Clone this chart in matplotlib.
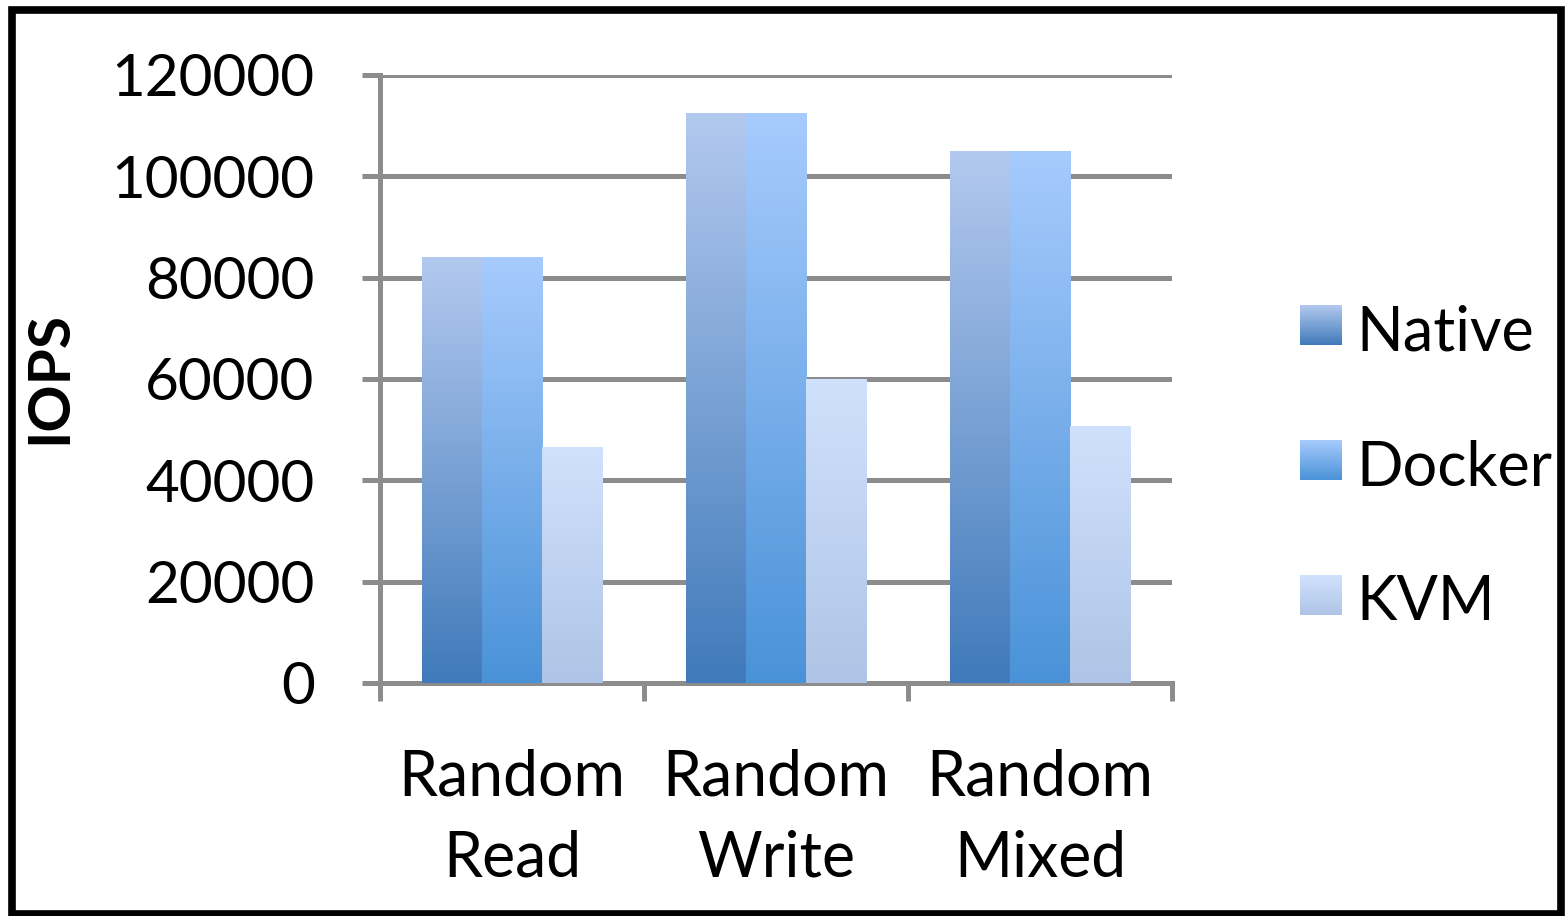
import numpy as np
import matplotlib
matplotlib.use("Agg")
import matplotlib.pyplot as plt
from matplotlib.colors import LinearSegmentedColormap
from matplotlib.patches import Rectangle

categories = ["Random\nRead", "Random\nWrite", "Random\nMixed"]
series_names = ["Native", "Docker", "KVM"]
native = [84000, 112500, 105000]
docker = [84000, 112500, 105000]
kvm = [46500, 60000, 50800]
yticks = [0, 20000, 40000, 60000, 80000, 100000, 120000]

grad_colors = {
    "Native": ("#407aba", "#b3c9ef"),
    "Docker": ("#4a92d8", "#a7cbfd"),
    "KVM": ("#afc4e6", "#cfe1fc"),
}

plt.rcParams['font.family'] = ['Lato', 'DejaVu Sans']

W, H = 1565, 916
fig = plt.figure(figsize=(W / 100, H / 100), dpi=100)
fig.patch.set_facecolor("white")

ax = fig.add_axes([380 / W, 1 - 683 / H, (1172 - 380) / W, (683 - 75) / H])
ax.set_xlim(-0.5, 2.5)
ax.set_ylim(0, 120000)

grid_c = "#8c8c8c"
for sp in ["top", "right"]:
    ax.spines[sp].set_visible(False)
for sp in ["left", "bottom"]:
    ax.spines[sp].set_color(grid_c)
    ax.spines[sp].set_linewidth(3.6)
ax.yaxis.grid(True, color=grid_c, linewidth=3.6)
ax.set_axisbelow(True)

ax.set_yticks(yticks)
ax.set_yticklabels([str(v) for v in yticks], fontsize=42)
ax.tick_params(axis="y", length=13, width=3.6, color=grid_c, pad=34)

ax.set_xticks(range(len(categories)))
ax.set_xticklabels(categories, fontsize=45, linespacing=1.5)
ax.tick_params(axis="x", which="major", length=0, pad=47)
ax.set_xticks([-0.5, 0.5, 1.5, 2.5], minor=True)
ax.tick_params(axis="x", which="minor", length=13, width=3.6, color=grid_c)

fig.text(50 / W, 1 - 377 / H, "IOPS", fontsize=42, fontweight="bold",
         rotation=90, ha="center", va="center")

bw = 0.228
offsets = [-bw, 0, bw]
data = [native, docker, kvm]
grad = np.linspace(0, 1, 256).reshape(-1, 1)
for name, vals, off in zip(series_names, data, offsets):
    cmap = LinearSegmentedColormap.from_list(name, list(grad_colors[name]))
    bars = ax.bar(np.arange(len(categories)) + off, vals, width=bw,
                  color=grad_colors[name][0], zorder=2, linewidth=0)
    for b in bars:
        x0, y0 = b.get_x(), b.get_y()
        w, h = b.get_width(), b.get_height()
        im = ax.imshow(grad, cmap=cmap, aspect="auto", origin="lower",
                       extent=(x0, x0 + w, y0, y0 + h), zorder=3)
        im.set_clip_path(b)
ax.set_xlim(-0.5, 2.5)
ax.set_ylim(0, 120000)

# legend
leg_y = [325, 460, 595]
for name, yc in zip(series_names, leg_y):
    cmap = LinearSegmentedColormap.from_list(name, list(grad_colors[name]))
    lax = fig.add_axes([1300 / W, 1 - (yc + 20) / H, 42 / W, 40 / H])
    lax.imshow(grad, cmap=cmap, aspect="auto", origin="lower")
    lax.set_axis_off()
    fig.text(1356 / W, 1 - (yc + 8) / H, name, fontsize=44, va="center", ha="left")

# outer frame
fig.patches.append(Rectangle((12 / W, 1 - 914 / H), (1561 - 12) / W, (914 - 10) / H,
                             transform=fig.transFigure, fill=False,
                             edgecolor="black", linewidth=5.5, zorder=10))

fig.savefig("out.png", dpi=100)
